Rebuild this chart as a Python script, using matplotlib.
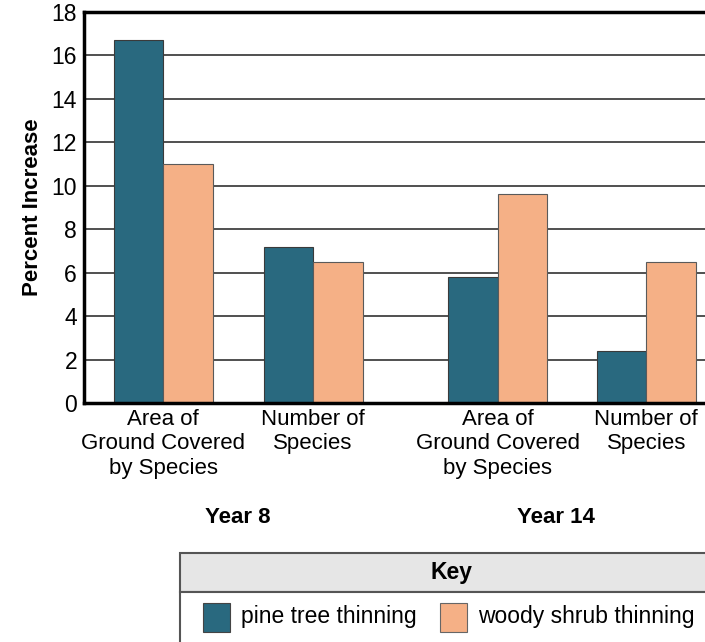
import matplotlib.pyplot as plt
from matplotlib.patches import Rectangle
import matplotlib.transforms as mtransforms

plt.rcParams['font.family'] = ['Liberation Sans', 'DejaVu Sans']

# data
categories = ['Area of\nGround Covered\nby Species', 'Number of\nSpecies',
              'Area of\nGround Covered\nby Species', 'Number of\nSpecies']
pine = [16.7, 7.2, 5.8, 2.4]
shrub = [11.0, 6.5, 9.6, 6.5]
years = ['Year 8', 'Year 14']
series_names = ['pine tree thinning', 'woody shrub thinning']

blue = '#29697f'
orange = '#f5b086'

fig = plt.figure(figsize=(7.05, 6.42), dpi=100)
ax = fig.add_axes([84/705, 1 - 403/642, 1 - 84/705 + 0.02, 391/642])

xpos = [0, 1, 2.23, 3.22]
w = 0.33
for v in range(2, 18, 2):
    ax.axhline(v, color='#505050', lw=1.4, zorder=1)
ax.bar([x - w/2 for x in xpos], pine, width=w, color=blue, edgecolor='#3a3a3a', lw=0.8, zorder=2)
ax.bar([x + w/2 for x in xpos], shrub, width=w, color=orange, edgecolor='#5a5a5a', lw=0.8, zorder=2)

ax.set_ylim(0, 18)
ax.set_xlim(-0.527, 3.706)
ax.set_yticks(range(0, 19, 2))
ax.tick_params(axis='y', length=0, labelsize=16.5, pad=5)
ax.set_xticks(xpos)
ax.set_xticklabels(categories, fontsize=16, linespacing=1.22)
ax.tick_params(axis='x', length=0, pad=4)
for s in ['left', 'bottom', 'top']:
    ax.spines[s].set_linewidth(2.5)
ax.spines['right'].set_visible(False)
ax.set_ylabel('Percent Increase', fontsize=16, fontweight='bold', labelpad=6)

trans = mtransforms.blended_transform_factory(ax.transData, ax.transAxes)
ax.text(0.5, -0.292, years[0], transform=trans, ha='center', va='center', fontsize=16, fontweight='bold')
ax.text(2.62, -0.292, years[1], transform=trans, ha='center', va='center', fontsize=16, fontweight='bold')

# key box
kx = fig.add_axes([0, 0, 1, 1], zorder=-1)
kx.set_xlim(0, 705)
kx.set_ylim(642, 0)
kx.axis('off')
kx.add_patch(Rectangle((180, 553), 560, 39, facecolor='#e6e6e6', edgecolor='#555555', lw=1.5))
kx.add_patch(Rectangle((180, 592), 560, 60, facecolor='white', edgecolor='#555555', lw=1.5))
kx.text(452, 573, 'Key', ha='center', va='center', fontsize=16.5, fontweight='bold')
kx.add_patch(Rectangle((203, 603), 27, 29, facecolor=blue, edgecolor='#444444', lw=0.8))
kx.text(241, 617, series_names[0], ha='left', va='center', fontsize=16.5)
kx.add_patch(Rectangle((440, 603), 27, 29, facecolor=orange, edgecolor='#666666', lw=0.8))
kx.text(478, 617, series_names[1], ha='left', va='center', fontsize=16.5)

fig.savefig('out.png', dpi=100)
